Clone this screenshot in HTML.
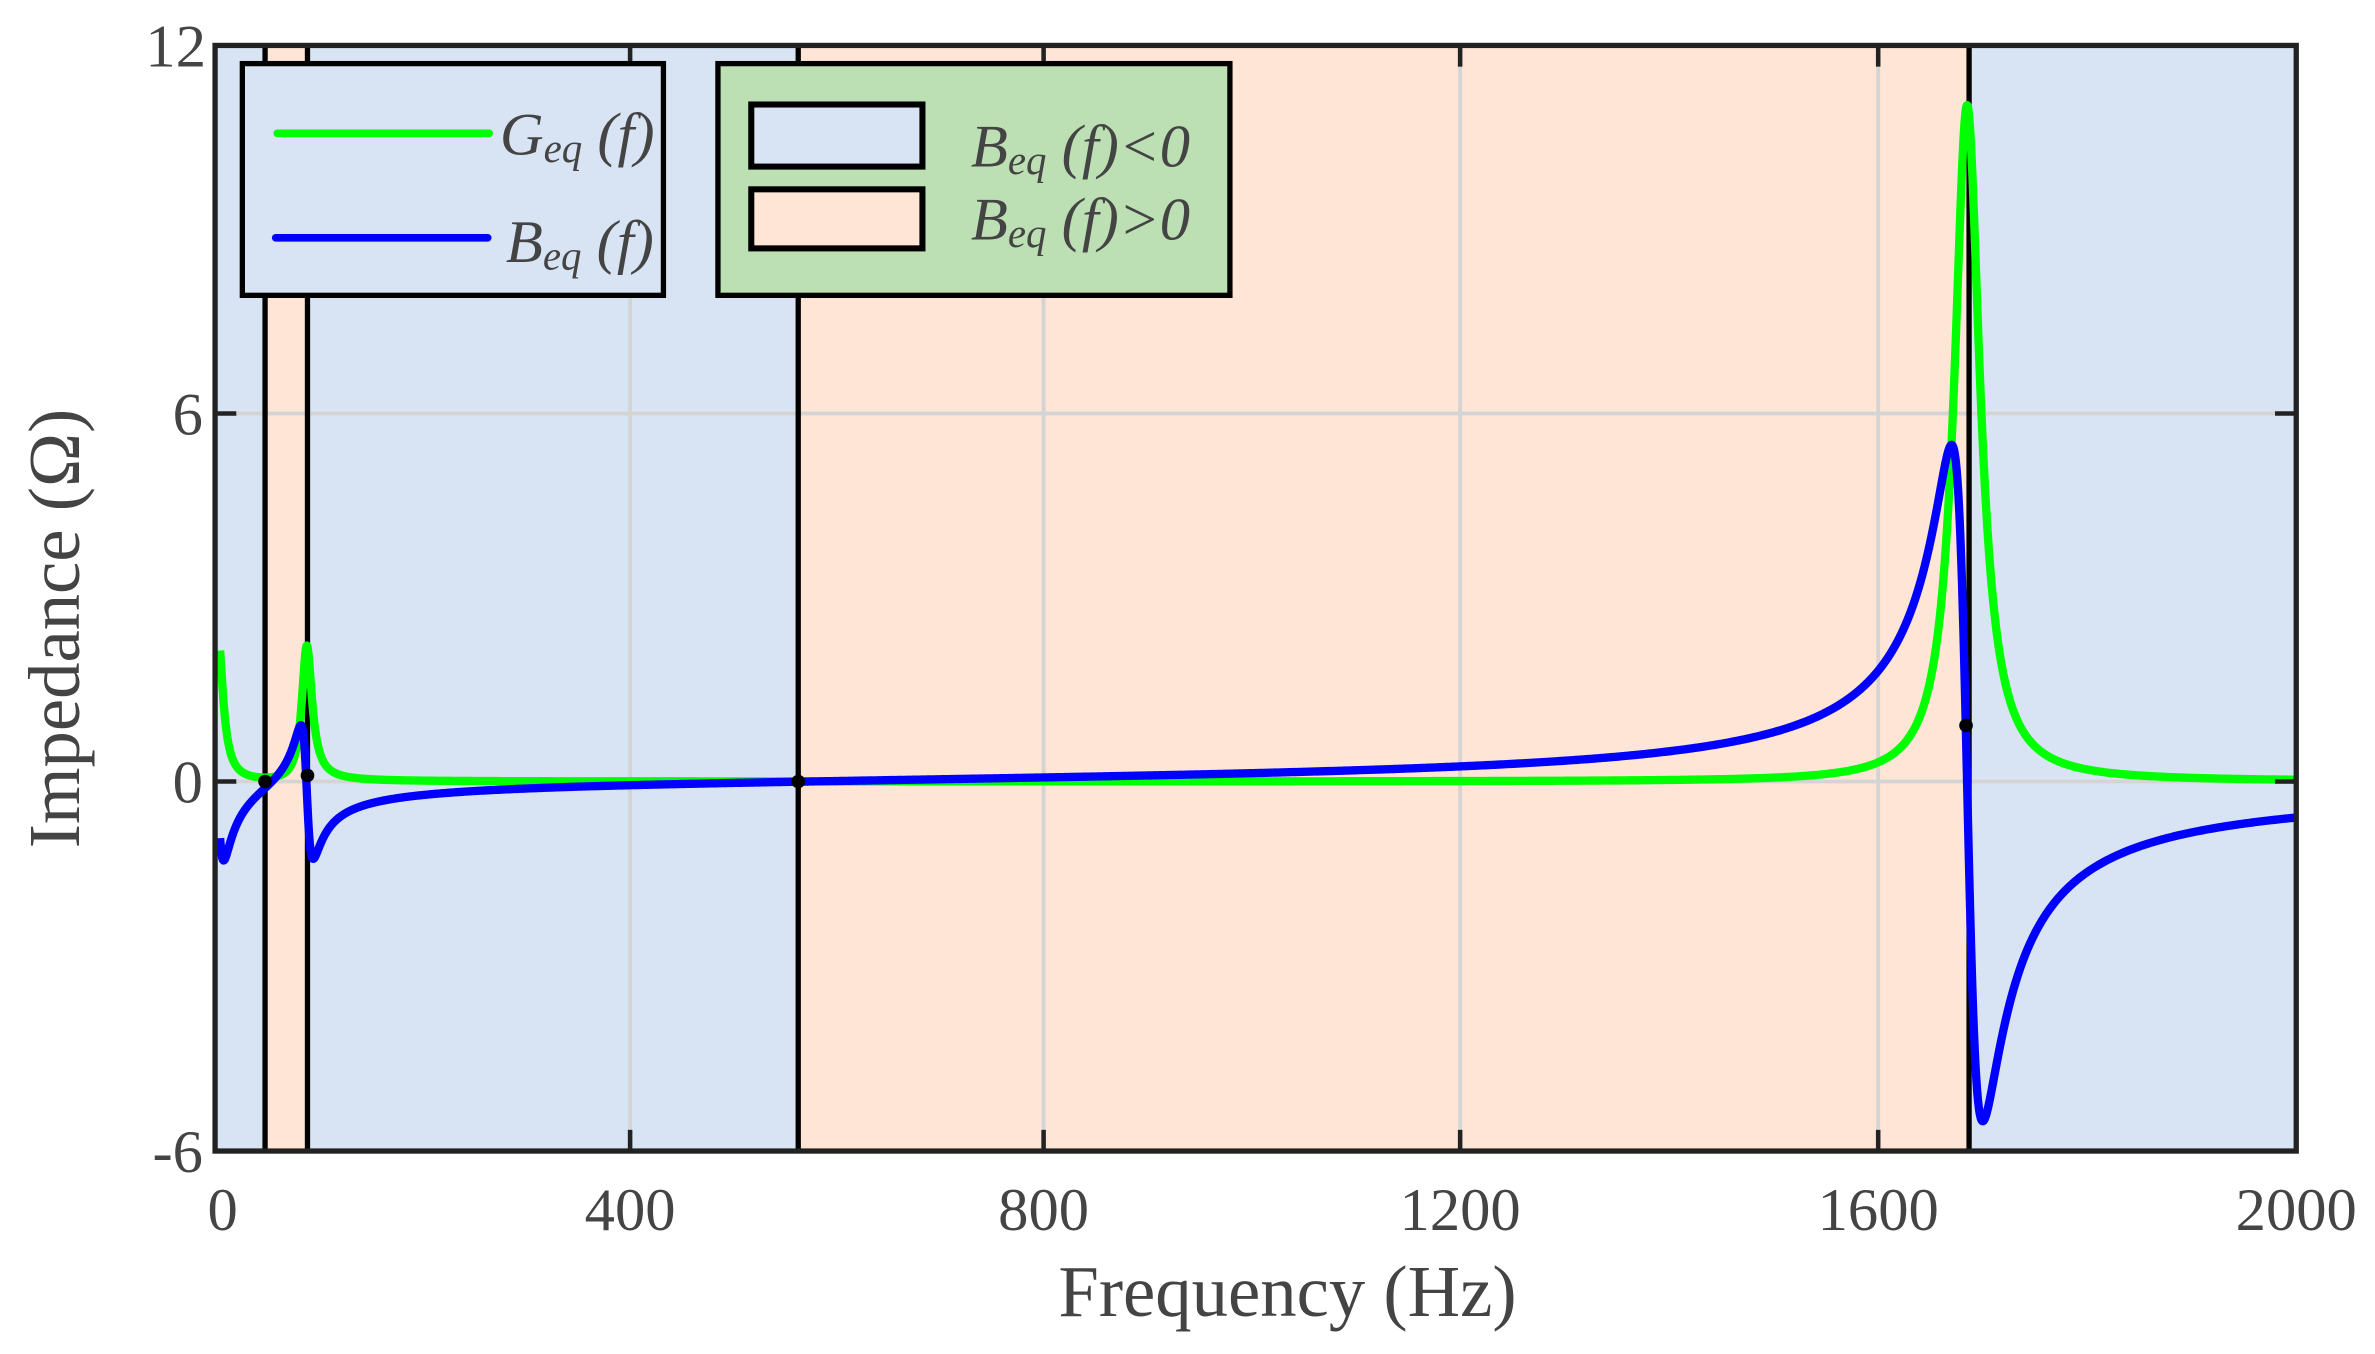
<!DOCTYPE html>
<html><head><meta charset="utf-8"><style>
html,body{margin:0;padding:0;background:#fff;}
svg{display:block;}
text{font-family:"Liberation Serif",serif;fill:#444;}
</style></head><body>
<svg id="s" width="2375" height="1354" viewBox="0 0 1568 894" preserveAspectRatio="none" xmlns="http://www.w3.org/2000/svg">
<rect x="142" y="30" width="33" height="730" fill="#d8e3f3"/>
<rect x="175" y="30" width="28" height="730" fill="#fee5d6"/>
<rect x="203" y="30" width="324" height="730" fill="#d8e3f3"/>
<rect x="527" y="30" width="773" height="730" fill="#fee5d6"/>
<rect x="1300" y="30" width="216" height="730" fill="#d8e3f3"/>
<g stroke="#d4d4d4" stroke-width="2.5">
<line x1="416" y1="30" x2="416" y2="760"/><line x1="689" y1="30" x2="689" y2="760"/>
<line x1="964" y1="30" x2="964" y2="760"/><line x1="1240" y1="30" x2="1240" y2="760"/>
<line x1="142" y1="273" x2="1516" y2="273"/><line x1="142" y1="516" x2="1516" y2="516"/>
</g>
<g stroke="#000" stroke-width="3.5">
<line x1="175" y1="30" x2="175" y2="760"/><line x1="203" y1="30" x2="203" y2="760"/>
<line x1="527" y1="30" x2="527" y2="760"/><line x1="1300" y1="30" x2="1300" y2="760"/>
</g>
<polyline id="g" fill="none" stroke="#00ff00" stroke-width="5.5" stroke-linejoin="round"/>
<polyline id="b" fill="none" stroke="#0000ff" stroke-width="5.5" stroke-linejoin="round"/>
<g fill="#000"><circle cx="175" cy="516" r="4.5"/><circle cx="203" cy="512" r="4.5"/><circle cx="527" cy="516" r="4.5"/><circle cx="1298" cy="479" r="4.5"/></g>
<rect x="142" y="30" width="1374" height="730" fill="none" stroke="#222" stroke-width="3.5"/>
<g stroke="#222" stroke-width="3">
<line x1="416" y1="760" x2="416" y2="746"/><line x1="689" y1="760" x2="689" y2="746"/><line x1="964" y1="760" x2="964" y2="746"/><line x1="1240" y1="760" x2="1240" y2="746"/>
<line x1="416" y1="30" x2="416" y2="44"/><line x1="689" y1="30" x2="689" y2="44"/><line x1="964" y1="30" x2="964" y2="44"/><line x1="1240" y1="30" x2="1240" y2="44"/>
<line x1="142" y1="273" x2="156" y2="273"/><line x1="142" y1="516" x2="156" y2="516"/>
<line x1="1516" y1="273" x2="1502" y2="273"/><line x1="1516" y1="516" x2="1502" y2="516"/>
</g>
<rect x="160" y="42" width="278" height="153" fill="#d8e3f3" stroke="#000" stroke-width="3.5"/>
<line x1="183" y1="88" x2="323" y2="88" stroke="#00ff00" stroke-width="5" stroke-linecap="round"/>
<line x1="182" y1="157" x2="322" y2="157" stroke="#0000ff" stroke-width="5" stroke-linecap="round"/>
<text x="330" y="102" font-size="40" font-style="italic">G<tspan font-size="27" dy="5">eq</tspan><tspan dy="-5"> (f)</tspan></text>
<text x="334" y="173" font-size="40" font-style="italic">B<tspan font-size="27" dy="5">eq</tspan><tspan dy="-5"> (f)</tspan></text>
<rect x="474" y="42" width="338" height="153" fill="#bce0b3" stroke="#000" stroke-width="3.5"/>
<rect x="496" y="69" width="113" height="41" fill="#d8e3f3" stroke="#000" stroke-width="4"/>
<rect x="496" y="125" width="113" height="39" fill="#fee5d6" stroke="#000" stroke-width="4"/>
<text x="641" y="110" font-size="40" font-style="italic">B<tspan font-size="27" dy="5">eq</tspan><tspan dy="-5"> (f)&lt;0</tspan></text>
<text x="641" y="158" font-size="40" font-style="italic">B<tspan font-size="27" dy="5">eq</tspan><tspan dy="-5"> (f)&gt;0</tspan></text>
<g font-size="40" text-anchor="end">
<text x="136" y="44">12</text><text x="134" y="287">6</text><text x="134" y="530">0</text><text x="134" y="774">-6</text>
</g>
<g font-size="40" text-anchor="middle">
<text x="147" y="812">0</text><text x="416" y="812">400</text><text x="689" y="812">800</text><text x="964" y="812">1200</text><text x="1240" y="812">1600</text><text x="1516" y="812">2000</text>
</g>
<text x="850" y="869" font-size="48" text-anchor="middle">Frequency (Hz)</text>
<text transform="translate(52,415) rotate(-90)" font-size="48" text-anchor="middle">Impedance (Ω)</text>
</svg>
<script>
function X(f){return 145+f*0.6855;}
function Y(v){return 516-v*40.6;}
function res(f,f0,R,Q){var x=f0/f-f/f0;var q=Q*x;return [R/(1+q*q),R*q/(1+q*q)];}
var gp=[],bp=[];
for(var f=0.5;f<=2000;f+=(f<150||(f>1550&&f<1800))?0.25:2){
 var u=(f+2)/6;
 var G=2.5/(1+u*u), B=-2.6*u/(1+u*u);
 var a=res(f,84,2.2,7), c=res(f,1683,11,56);
 G+=a[0]+c[0]; B+=a[1]+c[1];
 gp.push(X(f).toFixed(2)+","+Y(G).toFixed(2));
 bp.push(X(f).toFixed(2)+","+Y(B).toFixed(2));
}
document.getElementById("g").setAttribute("points",gp.join(" "));
document.getElementById("b").setAttribute("points",bp.join(" "));
</script>
</body></html>
